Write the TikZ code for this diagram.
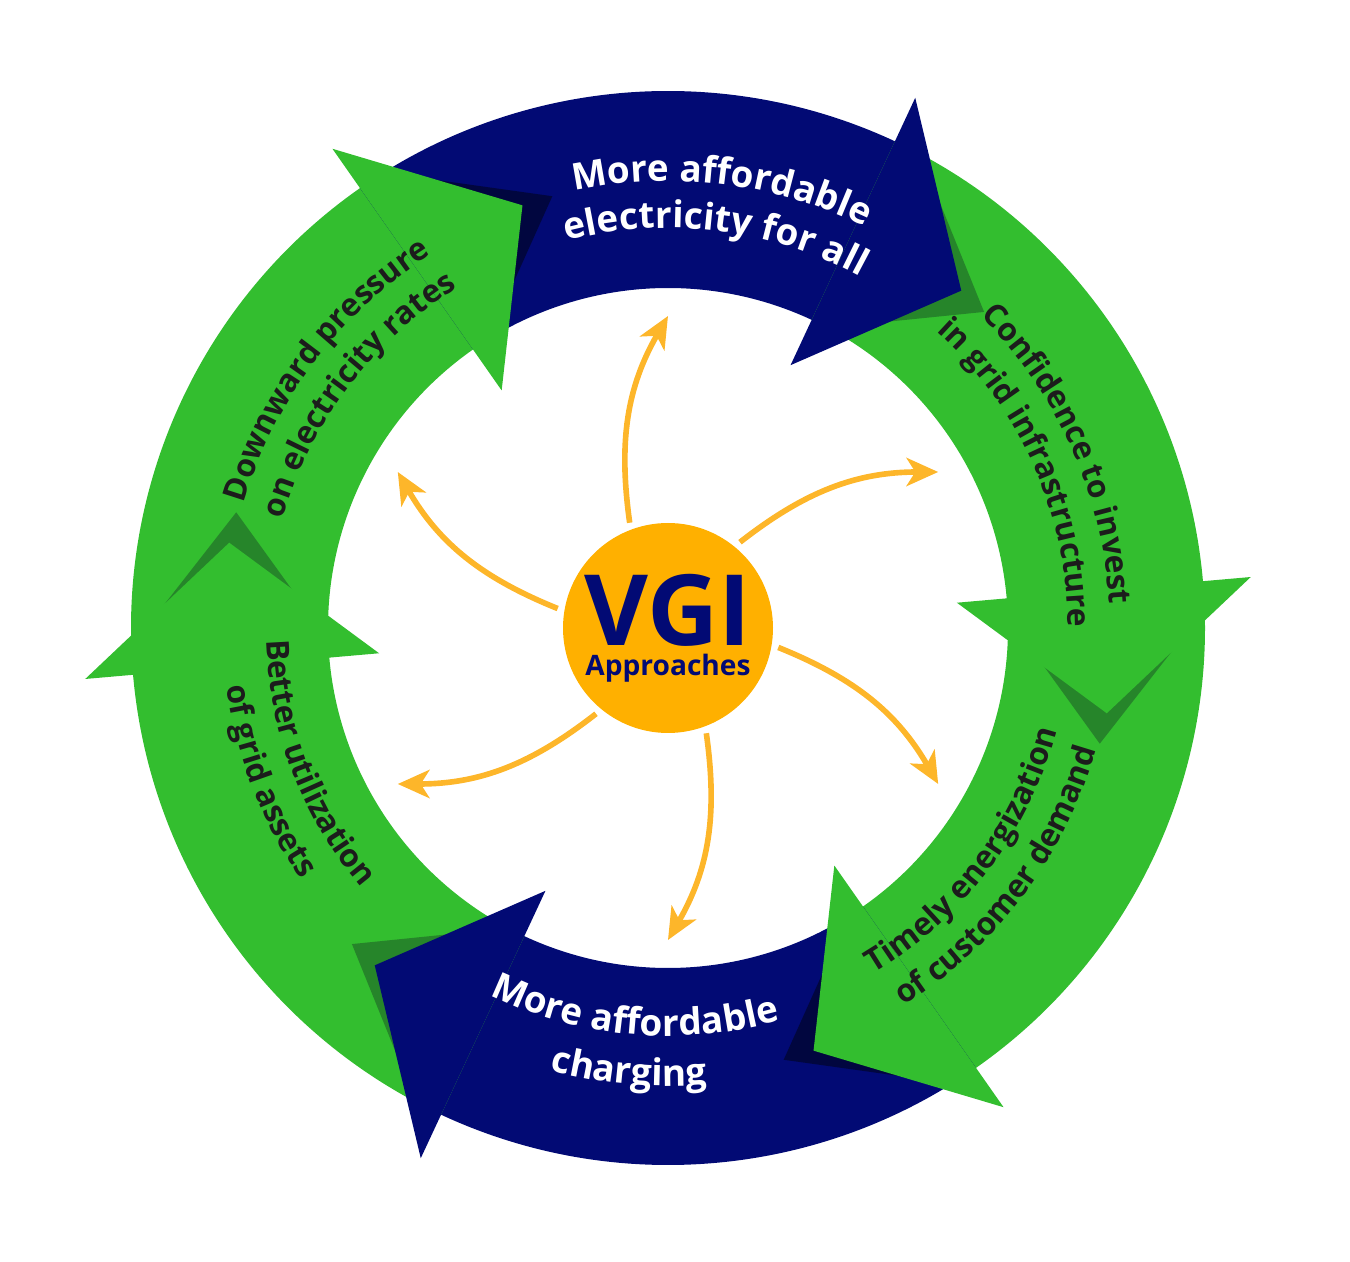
\documentclass[tikz,border=0pt]{standalone}
\usepackage{fontspec}
\setsansfont{Open Sans}
\usetikzlibrary{decorations.text,arrows.meta}
\definecolor{G}{HTML}{33BE2F}
\definecolor{N}{HTML}{020A74}
\definecolor{GD}{HTML}{26852A}
\definecolor{ND}{HTML}{01063F}
\definecolor{OR}{HTML}{FFB000}
\definecolor{YA}{HTML}{FDB62A}
\definecolor{TX}{HTML}{1C1C1C}
\tikzset{
  cwtext/.style n args={3}{decoration={text along path,text align=center,
     text={|\sffamily\bfseries\fontsize{#2}{#2}\selectfont\color{#3}|#1}},decorate},
  yarrow/.style={draw=YA,line width=3.2pt,-{Stealth[length=18pt,width=16pt,inset=5pt]}}
}
\begin{document}
\begin{tikzpicture}[x=0.02cm,y=0.02cm]
\useasboundingbox (0,0) rectangle (1350,1262);
\begin{scope}[shift={(668,634)}]
% bodies
\foreach \a/\c in {125/G,65/N,5/G,-55/G,-115/N,-175/G}{
  \fill[\c] (\a+60:537) arc[start angle=\a+60,end angle=\a-1,radius=537]
     -- (\a-1:340) arc[start angle=\a-1,end angle=\a+60,radius=340] -- cycle;
}
% shadows and heads
\foreach \a/\c/\d in {125/G/ND,65/N/GD,5/G/GD,-55/G/ND,-115/N/GD,-175/G/GD}{
  \fill[\d] (\a-3:537) -- (\a-20:447) -- (\a-3:340) -- cycle;
  \fill[\c] (\a:585) -- (\a-16:447) -- (\a:290) -- cycle;
}
% yellow arrows
\foreach \t in {90,30,-30,-90,-150,150}{
  \coordinate (s\t) at (\t+20:112);
  \coordinate (e\t) at (\t:312);
  \draw[yarrow] (s\t) to[out=\t+8,in=\t+150] (e\t);
}
% centre
\node[circle,fill=OR,minimum size=210*0.02cm,inner sep=0] (c) at (0,0) {};
\node[text=N,font=\sffamily\bfseries\fontsize{56}{56}\selectfont] (vgi) at (0,18) {VGI};
\node[text=N,font=\sffamily\bfseries\fontsize{16}{16}\selectfont] (ap) at (0,-40) {Approaches};
% labels upper (clockwise)
\path[cwtext={More affordable}{21}{white}] (83+35:447) arc[start angle=83+35,end angle=83-35,radius=447];
\path[cwtext={electricity for all}{21}{white}] (83+35:400) arc[start angle=83+35,end angle=83-35,radius=400];
\path[cwtext={Confidence to invest}{18}{TX}] (24+35:442) arc[start angle=24+35,end angle=24-35,radius=442];
\path[cwtext={in grid infrastructure}{18}{TX}] (24+35:400) arc[start angle=24+35,end angle=24-35,radius=400];
\path[cwtext={Downward pressure}{18}{TX}] (143+35:442) arc[start angle=143+35,end angle=143-35,radius=442];
\path[cwtext={on electricity rates}{18}{TX}] (143+35:400) arc[start angle=143+35,end angle=143-35,radius=400];
% labels lower (counterclockwise)
\path[cwtext={Timely energization}{18}{TX}] (-37-35:402) arc[start angle=-37-35,end angle=-37+35,radius=402];
\path[cwtext={of customer demand}{18}{TX}] (-37-35:445) arc[start angle=-37-35,end angle=-37+35,radius=445];
\path[cwtext={More affordable}{21}{white}] (-95-35:408) arc[start angle=-95-35,end angle=-95+35,radius=408];
\path[cwtext={charging}{21}{white}] (-95-35:458) arc[start angle=-95-35,end angle=-95+35,radius=458];
\path[cwtext={Better utilization}{18}{TX}] (201-35:402) arc[start angle=201-35,end angle=201+35,radius=402];
\path[cwtext={of grid assets}{18}{TX}] (201-35:445) arc[start angle=201-35,end angle=201+35,radius=445];
\end{scope}
\end{tikzpicture}
\end{document}
